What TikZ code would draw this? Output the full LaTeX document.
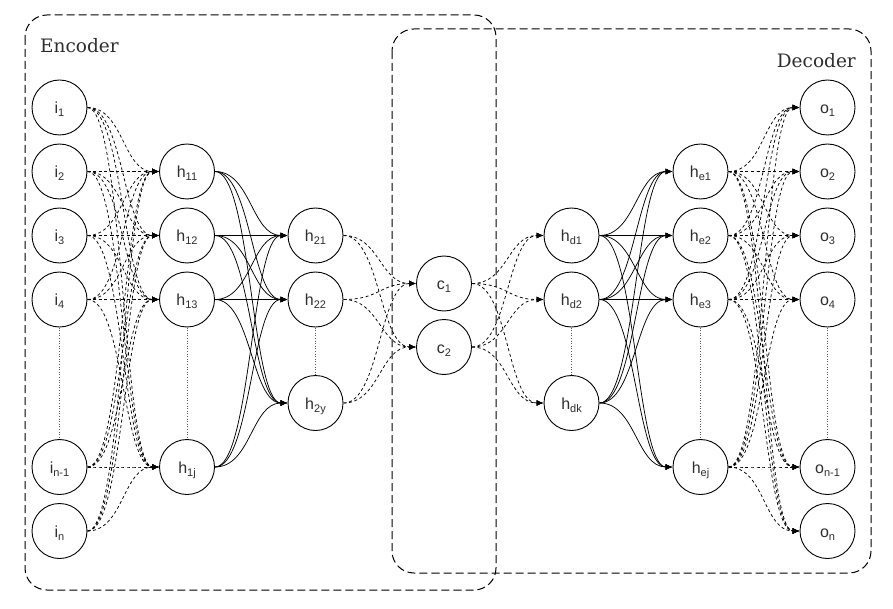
\documentclass[tikz,border=0pt]{standalone}
\usepackage{fontspec}
\setmainfont{Liberation Sans}
\newfontfamily\boxfont{DejaVu Serif}
\usetikzlibrary{arrows.meta}
\newcommand\nlab[2]{\raisebox{-6pt}[0pt][0pt]{#1\raisebox{-3.5pt}{\fontsize{11}{11}\selectfont #2}}}
\begin{document}
\begin{tikzpicture}[x=1pt,y=-1pt,
  neuron/.style={circle,draw,line width=0.9pt,minimum size=55pt,inner sep=0pt,outer sep=0.5pt,
    text=black!82,font=\fontsize{16}{16}\selectfont},
  dedge/.style={line width=0.75pt,dash pattern=on 3pt off 2.6pt,-{Latex[length=7pt,width=6pt]}},
  sedge/.style={line width=0.75pt,-{Latex[length=7pt,width=6pt]}},
  groupbox/.style={draw,line width=1pt,dash pattern=on 8pt off 4pt,rounded corners=22pt},
  vdot/.style={draw=black!65,line width=0.6pt,dash pattern=on 1pt off 1.6pt},
  boxtitle/.style={font=\boxfont\fontsize{18.5}{18.5}\selectfont,text=black!82,inner sep=0pt}]
\useasboundingbox (0,0) rectangle (893,609);

% group boxes
\draw[groupbox] (25,15) rectangle (496,590);
\draw[groupbox] (392,29) rectangle (871,573);
\node[boxtitle,anchor=base west] (enc) at (40,53) {Encoder};
\node[boxtitle,anchor=base east] (dec) at (856,68) {Decoder};

% input layer
\node[neuron] (i1)  at (59.5,107.5) {\nlab{i}{1}};
\node[neuron] (i2)  at (59.5,171.5) {\nlab{i}{2}};
\node[neuron] (i3)  at (59.5,235.5) {\nlab{i}{3}};
\node[neuron] (i4)  at (59.5,299.5) {\nlab{i}{4}};
\node[neuron] (in1) at (59.5,467) {\nlab{i}{n-1}};
\node[neuron] (in)  at (59.5,531) {\nlab{i}{n}};
% hidden 1
\node[neuron] (h11) at (187,171.5) {\nlab{h}{11}};
\node[neuron] (h12) at (187,235.5) {\nlab{h}{12}};
\node[neuron] (h13) at (187,299.5) {\nlab{h}{13}};
\node[neuron] (h1j) at (187,467) {\nlab{h}{1j}};
% hidden 2
\node[neuron] (h21) at (315.5,235.5) {\nlab{h}{21}};
\node[neuron] (h22) at (315.5,299.5) {\nlab{h}{22}};
\node[neuron] (h2y) at (315.5,403) {\nlab{h}{2y}};
% code
\node[neuron] (c1) at (444,283.5) {\nlab{c}{1}};
\node[neuron] (c2) at (444,347) {\nlab{c}{2}};
% decoder hidden
\node[neuron] (hd1) at (571.5,235.5) {\nlab{h}{d1}};
\node[neuron] (hd2) at (571.5,299.5) {\nlab{h}{d2}};
\node[neuron] (hdk) at (571.5,403) {\nlab{h}{dk}};
\node[neuron] (he1) at (700.5,171.5) {\nlab{h}{e1}};
\node[neuron] (he2) at (700.5,235.5) {\nlab{h}{e2}};
\node[neuron] (he3) at (700.5,299.5) {\nlab{h}{e3}};
\node[neuron] (hej) at (700.5,467) {\nlab{h}{ej}};
% output
\node[neuron] (o1)  at (827.5,107.5) {\nlab{o}{1}};
\node[neuron] (o2)  at (827.5,171.5) {\nlab{o}{2}};
\node[neuron] (o3)  at (827.5,235.5) {\nlab{o}{3}};
\node[neuron] (o4)  at (827.5,299.5) {\nlab{o}{4}};
\node[neuron] (on1) at (827.5,467) {\nlab{o}{n-1}};
\node[neuron] (on)  at (827.5,531) {\nlab{o}{n}};

% dotted continuation lines
\draw[vdot] (i4.south) -- (in1.north);
\draw[vdot] (h13.south) -- (h1j.north);
\draw[vdot] (h22.south) -- (h2y.north);
\draw[vdot] (hd2.south) -- (hdk.north);
\draw[vdot] (he3.south) -- (hej.north);
\draw[vdot] (o4.south) -- (on1.north);

% connections
\foreach \a in {i1,i2,i3,i4,in1,in}
  \foreach \b in {h11,h12,h13,h1j}
    \draw[dedge] (\a.east) .. controls +(36,0) and +(-36,0) .. (\b.west);
\foreach \a in {h11,h12,h13,h1j}
  \foreach \b in {h21,h22,h2y}
    \draw[sedge] (\a.east) .. controls +(36,0) and +(-36,0) .. (\b.west);
\foreach \a in {h21,h22,h2y}
  \foreach \b in {c1,c2}
    \draw[dedge] (\a.east) .. controls +(36,0) and +(-36,0) .. (\b.west);
\foreach \a in {c1,c2}
  \foreach \b in {hd1,hd2,hdk}
    \draw[dedge] (\a.east) .. controls +(36,0) and +(-36,0) .. (\b.west);
\foreach \a in {hd1,hd2,hdk}
  \foreach \b in {he1,he2,he3,hej}
    \draw[sedge] (\a.east) .. controls +(36,0) and +(-36,0) .. (\b.west);
\foreach \a in {he1,he2,he3,hej}
  \foreach \b in {o1,o2,o3,o4,on1,on}
    \draw[dedge] (\a.east) .. controls +(36,0) and +(-36,0) .. (\b.west);
\end{tikzpicture}
\end{document}
